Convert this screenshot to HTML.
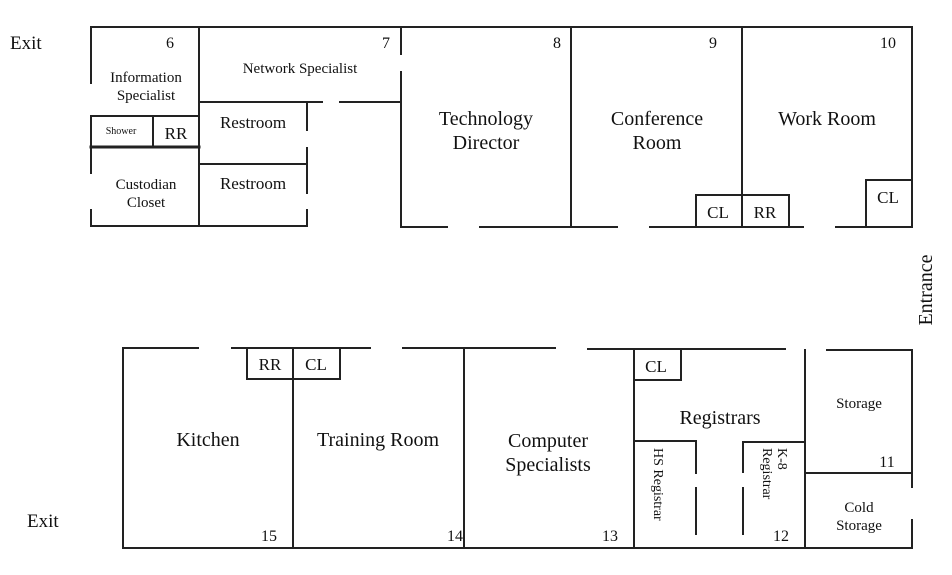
<!DOCTYPE html>
<html><head><meta charset="utf-8"><style>
html,body{margin:0;padding:0;background:#fff}
svg{display:block}
text{font-family:"Liberation Serif","DejaVu Serif",serif;fill:#111}
</style></head><body>
<svg width="952" height="575" viewBox="0 0 952 575" xmlns="http://www.w3.org/2000/svg">
<g stroke="#222" stroke-width="2" fill="none" stroke-linecap="square">
<line x1="91" y1="27" x2="912" y2="27"/>
<line x1="91" y1="27" x2="91" y2="83"/>
<line x1="91" y1="116" x2="91" y2="173"/>
<line x1="91" y1="210" x2="91" y2="226"/>
<line x1="91" y1="226" x2="307" y2="226"/>
<line x1="199" y1="27" x2="199" y2="226"/>
<line x1="91" y1="116" x2="199" y2="116"/>
<line x1="153" y1="116" x2="153" y2="146"/>
<line x1="91" y1="147" x2="199" y2="147" stroke-width="3"/>
<line x1="199" y1="102" x2="322" y2="102"/>
<line x1="340" y1="102" x2="401" y2="102"/>
<line x1="307" y1="102" x2="307" y2="130"/>
<line x1="307" y1="148" x2="307" y2="193"/>
<line x1="307" y1="210" x2="307" y2="226"/>
<line x1="199" y1="164" x2="307" y2="164"/>
<line x1="401" y1="27" x2="401" y2="54"/>
<line x1="401" y1="72" x2="401" y2="227"/>
<line x1="401" y1="227" x2="447" y2="227"/>
<line x1="480" y1="227" x2="617" y2="227"/>
<line x1="650" y1="227" x2="803" y2="227"/>
<line x1="836" y1="227" x2="912" y2="227"/>
<line x1="571" y1="27" x2="571" y2="227"/>
<line x1="742" y1="27" x2="742" y2="227"/>
<line x1="912" y1="27" x2="912" y2="227"/>
<rect x="696" y="195" width="93" height="32"/>
<rect x="866" y="180" width="46" height="47"/>
<line x1="123" y1="348" x2="198" y2="348"/>
<line x1="232" y1="348" x2="370" y2="348"/>
<line x1="403" y1="348" x2="555" y2="348"/>
<line x1="588" y1="349" x2="785" y2="349"/>
<line x1="827" y1="350" x2="912" y2="350"/>
<line x1="123" y1="348" x2="123" y2="548"/>
<line x1="123" y1="548" x2="912" y2="548"/>
<line x1="912" y1="350" x2="912" y2="487"/>
<line x1="912" y1="520" x2="912" y2="548"/>
<rect x="247" y="348" width="93" height="31"/>
<line x1="293" y1="348" x2="293" y2="548"/>
<line x1="464" y1="349" x2="464" y2="548"/>
<line x1="634" y1="349" x2="634" y2="548"/>
<rect x="634" y="349" width="47" height="31"/>
<line x1="634" y1="441" x2="696" y2="441"/>
<line x1="696" y1="441" x2="696" y2="473"/>
<line x1="696" y1="488" x2="696" y2="534"/>
<line x1="743" y1="442" x2="805" y2="442"/>
<line x1="743" y1="442" x2="743" y2="472"/>
<line x1="743" y1="488" x2="743" y2="534"/>
<line x1="805" y1="350" x2="805" y2="548"/>
<line x1="805" y1="473" x2="912" y2="473"/>
</g>
<g font-size="19">
<text x="10" y="49">Exit</text>
<text x="27" y="527">Exit</text>
<text transform="translate(932,290) rotate(-90)" text-anchor="middle" font-size="20">Entrance</text>
</g>
<g font-size="16" text-anchor="middle">
<text x="170" y="48">6</text>
<text x="386" y="48">7</text>
<text x="557" y="48">8</text>
<text x="713" y="48">9</text>
<text x="888" y="48">10</text>
<text x="887" y="467">11</text>
<text x="781" y="541">12</text>
<text x="610" y="541">13</text>
<text x="455" y="541">14</text>
<text x="269" y="541">15</text>
</g>
<g font-size="15" text-anchor="middle">
<text x="146" y="82">Information</text>
<text x="146" y="100">Specialist</text>
<text x="121" y="134" font-size="10">Shower</text>
<text x="176" y="139" font-size="17">RR</text>
<text x="146" y="189">Custodian</text>
<text x="146" y="207">Closet</text>
<text x="300" y="73">Network Specialist</text>
<text x="859" y="408">Storage</text>
<text x="859" y="512">Cold</text>
<text x="859" y="530">Storage</text>
</g>
<g font-size="17" text-anchor="middle">
<text x="253" y="128">Restroom</text>
<text x="253" y="189">Restroom</text>
<text x="718" y="218">CL</text>
<text x="765" y="218">RR</text>
<text x="888" y="203">CL</text>
<text x="270" y="370">RR</text>
<text x="316" y="370">CL</text>
<text x="656" y="372">CL</text>
</g>
<g font-size="20" text-anchor="middle">
<text x="486" y="125">Technology</text>
<text x="486" y="149">Director</text>
<text x="657" y="125">Conference</text>
<text x="657" y="149">Room</text>
<text x="827" y="125">Work Room</text>
<text x="208" y="446">Kitchen</text>
<text x="378" y="446">Training Room</text>
<text x="548" y="447">Computer</text>
<text x="548" y="471">Specialists</text>
<text x="720" y="424">Registrars</text>
</g>
<g font-size="14">
<text transform="translate(654,448) rotate(90)">HS Registrar</text>
<text transform="translate(778,448) rotate(90)">K-8</text>
<text transform="translate(763,448) rotate(90)">Registrar</text>
</g>
</svg>
</body></html>
